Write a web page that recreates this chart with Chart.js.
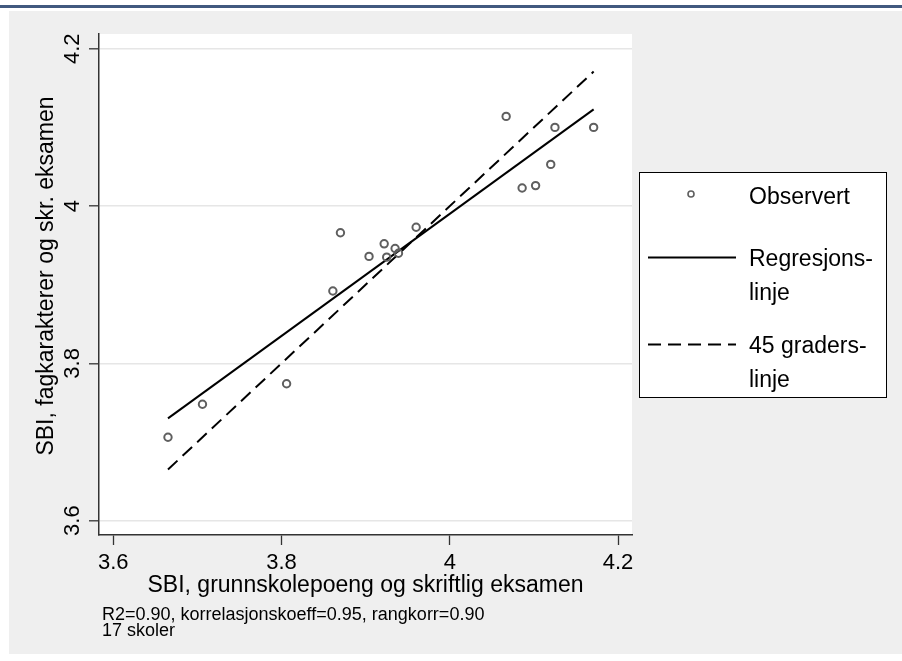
<!DOCTYPE html>
<html>
<head>
<meta charset="utf-8">
<script src="https://cdn.jsdelivr.net/npm/chart.js@4"></script>
<style>
  body { margin: 0; background: #fff; font-family: "Liberation Sans", Arial, sans-serif; }
  #bar { position: absolute; left: 0; top: 5px; width: 902px; height: 3px; background: #41597f; }
  #panel { position: absolute; left: 9px; top: 11px; width: 893px; height: 643px; background: #efefef; }
  #chart { position: absolute; left: 0; top: 0; }
  #note { position: absolute; left: 93px; top: 595px; font-size: 18px; line-height: 16px; color: #000; white-space: nowrap; }
</style>
</head>
<body>
<div id="bar"></div>
<div id="panel">
  <canvas id="chart" width="893" height="643"></canvas>
  <div id="note">R2=0.90, korrelasjonskoeff=0.95, rangkorr=0.90<br>17 skoler</div>
</div>
<script>
// skoler: SBI grunnskolepoeng/skriftlig (x) mot fagkarakterer/skr. eksamen (y)
var obsX = [3.665, 3.706, 3.806, 3.861, 3.870, 3.904, 3.922, 3.925, 3.935, 3.939, 3.960, 4.067, 4.086, 4.102, 4.120, 4.125, 4.171];
var obsY = [3.706, 3.748, 3.774, 3.892, 3.966, 3.936, 3.952, 3.935, 3.946, 3.940, 3.973, 4.114, 4.023, 4.026, 4.053, 4.100, 4.100];

// regresjonslinje og 45-graderslinje (endepunkter)
var regX = [3.665, 4.171];
var regY = [3.730, 4.123];
var diagX = [3.665, 4.171];
var diagY = [3.665, 4.171];

var seriesNames = ['Observert', 'Regresjons-\nlinje', '45 graders-\nlinje'];
var yTitle = 'SBI, fagkarakterer og skr. eksamen';
var xTitle = 'SBI, grunnskolepoeng og skriftlig eksamen';

var xTicks = [3.6, 3.8, 4.0, 4.2];
var xTickLabels = ['3.6', '3.8', '4', '4.2'];
var yTicks = [3.6, 3.8, 4.0, 4.2];
var yTickLabels = ['3.6', '3.8', '4', '4.2'];

function pairs(xs, ys) {
	return xs.map(function(x, i) { return {x: x, y: ys[i]}; });
}

var FONT = '"Liberation Sans", Arial, sans-serif';
Chart.defaults.font.family = FONT;
Chart.defaults.color = '#000';

// hvit plottflate
var plotBg = {
	id: 'plotBg',
	beforeDraw: function(chart) {
		var a = chart.chartArea, ctx = chart.ctx;
		ctx.save();
		ctx.fillStyle = '#fff';
		ctx.fillRect(a.left, a.top, a.right - a.left, a.bottom - a.top);
		ctx.restore();
	}
};

// y-etiketter og y-tittel rotert som i Stata
var yLabels = {
	id: 'yLabels',
	afterDraw: function(chart) {
		var ctx = chart.ctx, y = chart.scales.y;
		ctx.save();
		ctx.fillStyle = '#000';
		ctx.textAlign = 'center';
		ctx.textBaseline = 'middle';
		ctx.font = '22px ' + FONT;
		yTicks.forEach(function(v, i) {
			ctx.save();
			ctx.translate(64, y.getPixelForValue(v));
			ctx.rotate(-Math.PI / 2);
			ctx.fillText(yTickLabels[i], 0, 0);
			ctx.restore();
		});
		ctx.font = '23px ' + FONT;
		ctx.translate(38, 265);
		ctx.rotate(-Math.PI / 2);
		ctx.fillText(yTitle, 0, 0);
		ctx.restore();
	}
};

// forklaring i egen boks til høyre
var boxLegend = {
	id: 'boxLegend',
	afterDraw: function(chart) {
		var ctx = chart.ctx, ds = chart.data.datasets;
		var bx = 630.5, by = 161.5, bw = 247, bh = 225;
		var rows = [183, 246.5, 333.5];
		var baselines = [[193], [255, 288.5], [342, 375.5]];
		ctx.save();
		ctx.fillStyle = '#fff';
		ctx.fillRect(bx, by, bw, bh);
		ctx.strokeStyle = '#000';
		ctx.lineWidth = 1;
		ctx.strokeRect(bx, by, bw, bh);

		ds.forEach(function(d, i) {
			var cy = rows[i];
			ctx.save();
			if (d.showLine) {
				ctx.strokeStyle = d.borderColor;
				ctx.lineWidth = d.borderWidth;
				ctx.setLineDash(d.borderDash || []);
				ctx.beginPath();
				ctx.moveTo(639, cy);
				ctx.lineTo(727, cy);
				ctx.stroke();
			} else {
				ctx.strokeStyle = d.borderColor;
				ctx.lineWidth = 1.6;
				ctx.beginPath();
				ctx.arc(682, cy, 3, 0, Math.PI * 2);
				ctx.stroke();
			}
			ctx.restore();
			ctx.font = '23px ' + FONT;
			ctx.fillStyle = '#000';
			ctx.textBaseline = 'alphabetic';
			seriesNames[i].split('\n').forEach(function(t, j) {
				ctx.fillText(t, 740, baselines[i][j]);
			});
		});
		ctx.restore();
	}
};

var ctx = document.getElementById('chart').getContext('2d');

var config = {
	type: 'scatter',
	data: {
		datasets: [{
			label: seriesNames[0],
			data: pairs(obsX, obsY),
			pointRadius: 3.7,
			pointBorderWidth: 2,
			borderColor: '#5f5f5f',
			backgroundColor: 'rgba(0,0,0,0)',
			showLine: false
		}, {
			label: seriesNames[1],
			data: pairs(regX, regY),
			showLine: true,
			borderColor: '#000',
			borderWidth: 2,
			pointRadius: 0,
			fill: false
		}, {
			label: seriesNames[2],
			data: pairs(diagX, diagY),
			showLine: true,
			borderColor: '#000',
			borderWidth: 2,
			borderDash: [13, 7],
			pointRadius: 0,
			fill: false
		}]
	},
	options: {
		responsive: false,
		animation: false,
		devicePixelRatio: 1,
		layout: { padding: { left: 0, right: 270, top: 23, bottom: 0 } },
		plugins: {
			legend: { display: false },
			tooltip: { enabled: false }
		},
		scales: {
			x: {
				type: 'linear',
				min: 3.583,
				max: 4.2166,
				afterBuildTicks: function(s) { s.ticks = xTicks.map(function(v) { return {value: v}; }); },
				afterFit: function(s) { s.height = 119; },
				ticks: {
					font: { size: 22 },
					color: '#000',
					padding: 5,
					maxRotation: 0,
					callback: function(v, i) { return xTickLabels[i]; }
				},
				grid: { drawOnChartArea: false, drawTicks: true, tickLength: 10, tickColor: '#333', tickWidth: 1.3 },
				border: { display: true, color: '#333', width: 1.5 },
				title: {
					display: true,
					text: xTitle,
					font: { size: 23 },
					color: '#000',
					padding: { top: 0, bottom: 55 }
				}
			},
			y: {
				type: 'linear',
				min: 3.5817,
				max: 4.2188,
				afterBuildTicks: function(s) { s.ticks = yTicks.map(function(v) { return {value: v}; }); },
				afterFit: function(s) { s.width = 90; },
				ticks: { display: false },
				grid: { color: '#e6e6e6', lineWidth: 1.6, drawTicks: true, tickLength: 10, tickColor: '#333', tickWidth: 1.3 },
				border: { display: true, color: '#333', width: 1.5 }
			}
		}
	},
	plugins: [plotBg, yLabels, boxLegend]
};

var mychart = new Chart(ctx, config);
</script>
</body>
</html>
